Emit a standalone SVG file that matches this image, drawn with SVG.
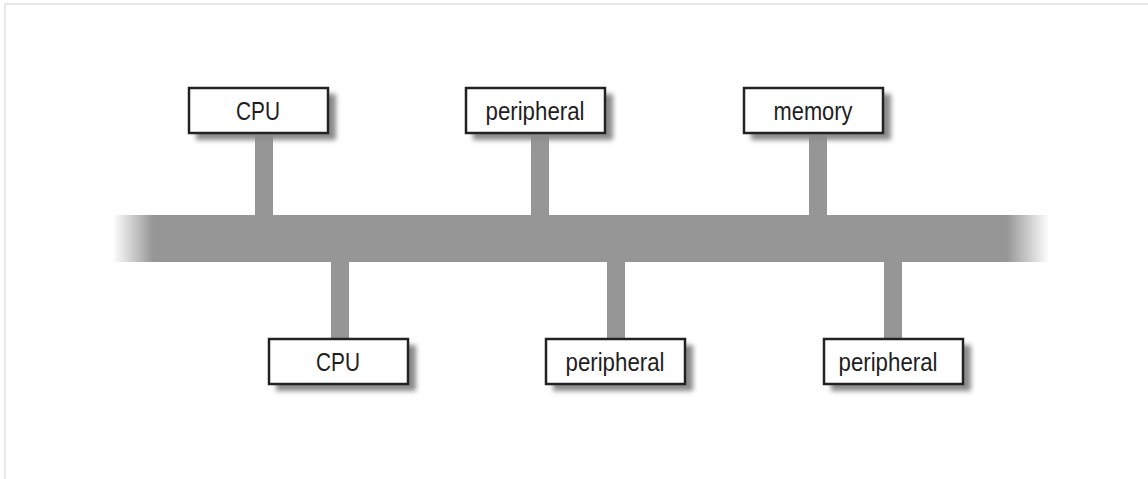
<svg xmlns="http://www.w3.org/2000/svg" width="1148" height="479" viewBox="0 0 1148 479">
<defs>
<linearGradient id="busL" x1="0" y1="0" x2="1" y2="0">
<stop offset="0" stop-color="#959695" stop-opacity="0"/>
<stop offset="1" stop-color="#959695" stop-opacity="1"/>
</linearGradient>
<linearGradient id="busR" x1="0" y1="0" x2="1" y2="0">
<stop offset="0" stop-color="#959695" stop-opacity="1"/>
<stop offset="1" stop-color="#959695" stop-opacity="0"/>
</linearGradient>
<filter id="sh" x="-20%" y="-40%" width="140%" height="180%">
<feGaussianBlur stdDeviation="2.5"/>
</filter>
</defs>
<style>
.frame{stroke:#e8e8e8;stroke-width:2;fill:none}
.bus{fill:#959695}
.stem{fill:#959695}
.shadow{fill:#8a8a8a;filter:url(#sh)}
.box{fill:#ffffff;stroke:#222222;stroke-width:2.5}
.lbl{font-family:"Liberation Sans",Arial,sans-serif;font-size:25px;fill:#1e1e1e;text-anchor:middle}
</style>
<rect width="1148" height="479" fill="#ffffff"/>
<path class="frame" d="M5,479 V4 H1148"/>
<g id="connectors">
<rect class="bus" x="153" y="215" width="854" height="47"/>
<rect x="113" y="215" width="40" height="47" fill="url(#busL)"/>
<rect x="1007" y="215" width="42" height="47" fill="url(#busR)"/>
<rect class="stem" x="255" y="133" width="18" height="82"/>
<rect class="stem" x="531" y="133" width="18" height="82"/>
<rect class="stem" x="809" y="133" width="18" height="82"/>
<rect class="stem" x="331" y="262" width="18" height="76"/>
<rect class="stem" x="607" y="262" width="18" height="76"/>
<rect class="stem" x="884" y="262" width="18" height="76"/>
</g>
<g id="cpu1">
<rect class="shadow" x="196" y="94" width="140" height="46"/>
<rect class="box" x="189" y="88" width="139" height="45"/>
<text class="lbl" x="258" y="120" textLength="44" lengthAdjust="spacingAndGlyphs">CPU</text>
</g>
<g id="peripheral1">
<rect class="shadow" x="473" y="94" width="140" height="46"/>
<rect class="box" x="466" y="88" width="139" height="45"/>
<text class="lbl" x="535" y="120" textLength="99" lengthAdjust="spacingAndGlyphs">peripheral</text>
</g>
<g id="memory">
<rect class="shadow" x="751" y="94" width="140" height="46"/>
<rect class="box" x="744" y="88" width="139" height="45"/>
<text class="lbl" x="813" y="120" textLength="79" lengthAdjust="spacingAndGlyphs">memory</text>
</g>
<g id="cpu2">
<rect class="shadow" x="276" y="345" width="140" height="46"/>
<rect class="box" x="269" y="339" width="139" height="45"/>
<text class="lbl" x="338" y="371" textLength="44" lengthAdjust="spacingAndGlyphs">CPU</text>
</g>
<g id="peripheral2">
<rect class="shadow" x="553" y="345" width="140" height="46"/>
<rect class="box" x="546" y="339" width="139" height="45"/>
<text class="lbl" x="615" y="371" textLength="99" lengthAdjust="spacingAndGlyphs">peripheral</text>
</g>
<g id="peripheral3">
<rect class="shadow" x="831" y="345" width="140" height="46"/>
<rect class="box" x="824" y="339" width="139" height="45"/>
<text class="lbl" x="888" y="371" textLength="99" lengthAdjust="spacingAndGlyphs">peripheral</text>
</g>
</svg>
